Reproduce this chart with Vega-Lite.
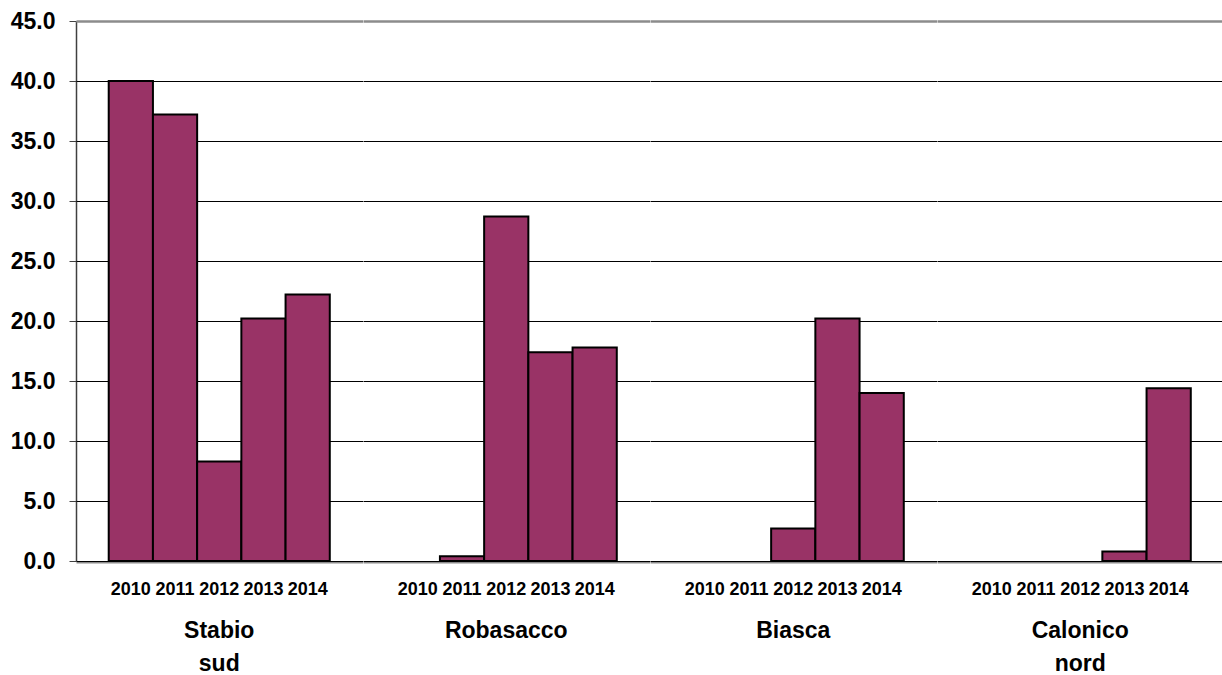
{
  "$schema": "https://vega.github.io/schema/vega-lite/v6.json",
  "padding": {"left": 10, "top": 10, "right": 0, "bottom": 0},
  "background": "white",
  "data": {
    "values": [
      {"site": "Stabio sud", "year": "2010", "value": 40.0},
      {"site": "Stabio sud", "year": "2011", "value": 37.2},
      {"site": "Stabio sud", "year": "2012", "value": 8.3},
      {"site": "Stabio sud", "year": "2013", "value": 20.2},
      {"site": "Stabio sud", "year": "2014", "value": 22.2},
      {"site": "Robasacco", "year": "2010", "value": null},
      {"site": "Robasacco", "year": "2011", "value": 0.4},
      {"site": "Robasacco", "year": "2012", "value": 28.7},
      {"site": "Robasacco", "year": "2013", "value": 17.4},
      {"site": "Robasacco", "year": "2014", "value": 17.8},
      {"site": "Biasca", "year": "2010", "value": null},
      {"site": "Biasca", "year": "2011", "value": null},
      {"site": "Biasca", "year": "2012", "value": 2.7},
      {"site": "Biasca", "year": "2013", "value": 20.2},
      {"site": "Biasca", "year": "2014", "value": 14.0},
      {"site": "Calonico nord", "year": "2010", "value": null},
      {"site": "Calonico nord", "year": "2011", "value": null},
      {"site": "Calonico nord", "year": "2012", "value": null},
      {"site": "Calonico nord", "year": "2013", "value": 0.8},
      {"site": "Calonico nord", "year": "2014", "value": 14.4}
    ]
  },
  "facet": {
    "column": {
      "field": "site",
      "type": "nominal",
      "sort": ["Stabio sud", "Robasacco", "Biasca", "Calonico nord"],
      "title": null,
      "header": {
        "labelOrient": "bottom",
        "labelExpr": "split(datum.value, ' ')",
        "labelFont": "Liberation Sans",
        "labelFontSize": 23,
        "labelFontWeight": "bold",
        "labelColor": "black",
        "labelLineHeight": 33,
        "labelPadding": 22
      }
    }
  },
  "spacing": 0,
  "spec": {
    "width": 286.5,
    "height": 540,
    "mark": {"type": "bar", "fill": "#993366", "stroke": "black", "strokeWidth": 2},
    "encoding": {
      "x": {
        "field": "year",
        "type": "ordinal",
        "scale": {"domain": ["2010", "2011", "2012", "2013", "2014"], "paddingInner": 0, "paddingOuter": 0.74},
        "axis": {
          "title": null,
          "labelAngle": 0,
          "ticks": false,
          "tickSize": 0,
          "labelPadding": 18,
          "labelFont": "Liberation Sans",
          "labelFontSize": 18,
          "labelFontWeight": "bold",
          "labelColor": "black",
          "domainColor": "#8c8c8c",
          "domainWidth": 2
        }
      },
      "y": {
        "field": "value",
        "type": "quantitative",
        "scale": {"domain": [0, 45], "nice": false},
        "axis": {
          "title": null,
          "values": [0, 5, 10, 15, 20, 25, 30, 35, 40, 45],
          "format": ".1f",
          "labelFont": "Liberation Sans",
          "labelFontSize": 23,
          "labelFontWeight": "bold",
          "labelColor": "black",
          "labelPadding": 14,
          "tickSize": 7,
          "tickColor": "#404040",
          "domainColor": "#404040",
          "domainWidth": 1.5,
          "gridColor": {"condition": {"test": "datum.value == 45", "value": "#8c8c8c"}, "value": "black"},
          "gridWidth": {"condition": {"test": "datum.value == 45", "value": 2.5}, "value": 1}
        }
      }
    }
  },
  "config": {
    "view": {"stroke": null}
  }
}
